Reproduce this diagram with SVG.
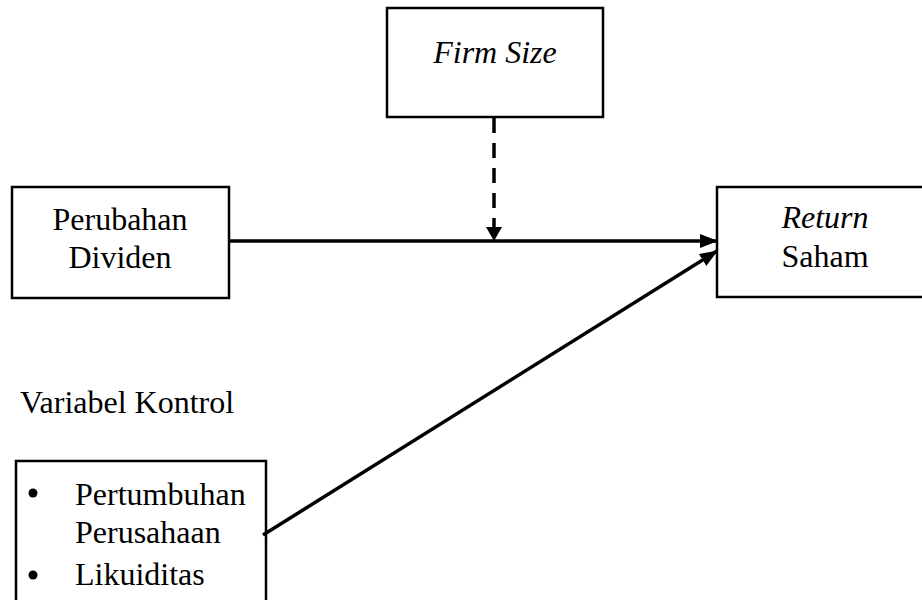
<svg xmlns="http://www.w3.org/2000/svg" width="922" height="600" viewBox="0 0 922 600">
<style>
.box{fill:#fff;stroke:#000;stroke-width:2.5}
.t{font-family:"Liberation Serif","Times New Roman",serif;font-size:32px;fill:#000}
.i{font-style:italic}
.ln{stroke:#000;stroke-width:3.5;fill:none}
</style>
<defs>
<marker id="ah" markerUnits="userSpaceOnUse" markerWidth="18" markerHeight="14" refX="17" refY="7" orient="auto">
<path d="M0,0 L18,7 L0,14 Z" fill="#000"/>
</marker>
<marker id="ahd" markerUnits="userSpaceOnUse" markerWidth="14" markerHeight="16" refX="13" refY="8" orient="auto">
<path d="M0,0 L14,8 L0,16 Z" fill="#000"/>
</marker>
</defs>
<rect width="922" height="600" fill="#fff"/>
<g id="firm-size">
<rect class="box" x="387" y="8" width="216" height="109"/>
<text class="t i" x="495" y="63" text-anchor="middle">Firm Size</text>
</g>
<g id="perubahan-dividen">
<rect class="box" x="12" y="187" width="217" height="111"/>
<text class="t" x="120" y="230" text-anchor="middle">Perubahan</text>
<text class="t" x="120" y="268" text-anchor="middle">Dividen</text>
</g>
<g id="return-saham">
<rect class="box" x="717" y="187" width="215" height="110"/>
<text class="t i" x="825" y="228" text-anchor="middle">Return</text>
<text class="t" x="825" y="267" text-anchor="middle">Saham</text>
</g>
<g id="variabel-kontrol-label">
<text class="t" x="20" y="413">Variabel Kontrol</text>
</g>
<g id="variabel-kontrol">
<rect class="box" x="16" y="461" width="250" height="150"/>
<circle cx="33" cy="493" r="4.5" fill="#000"/>
<text class="t" x="75" y="505">Pertumbuhan</text>
<text class="t" x="75" y="543">Perusahaan</text>
<circle cx="33" cy="575" r="4.5" fill="#000"/>
<text class="t" x="75" y="585">Likuiditas</text>
</g>
<g id="connectors">
<line class="ln" x1="230" y1="241" x2="717" y2="241" marker-end="url(#ah)"/>
<line class="ln" x1="263" y1="535" x2="717" y2="251" marker-end="url(#ah)"/>
<line class="ln" x1="494" y1="118" x2="494" y2="240" stroke-dasharray="15 10" marker-end="url(#ahd)"/>
</g>
</svg>
